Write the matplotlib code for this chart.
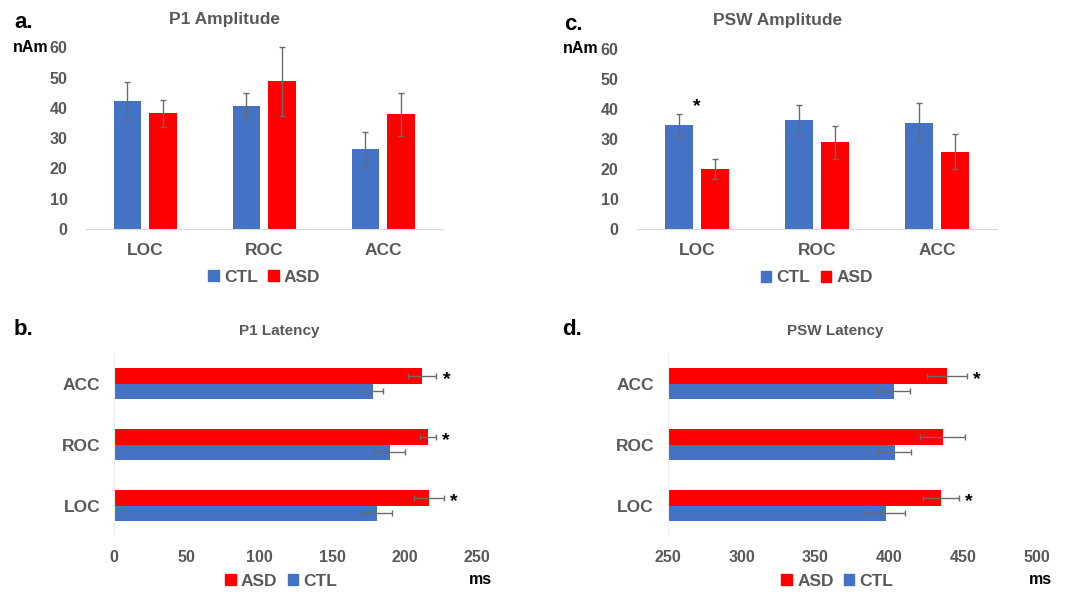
import numpy as np
import matplotlib
matplotlib.use("Agg")
from matplotlib import pyplot as plt
from matplotlib.patches import Patch

plt.rcParams["font.family"] = ["Liberation Sans", "DejaVu Sans"]
plt.rcParams["font.weight"] = "bold"

BLUE = "#4472C4"
RED = "#FF0000"
GRAY = "#595959"
ERR = "#6b6b6b"

regions = ["LOC", "ROC", "ACC"]

# amplitude (nAm): mean and error half-width
p1_amp_ctl = [42.3, 40.5, 26.4]
p1_amp_ctl_err = [6.1, 4.3, 5.7]
p1_amp_asd = [38.2, 48.7, 37.9]
p1_amp_asd_err = [4.5, 11.4, 7.1]

psw_amp_ctl = [34.5, 36.3, 35.4]
psw_amp_ctl_err = [3.7, 5.0, 6.6]
psw_amp_asd = [20.0, 28.9, 25.8]
psw_amp_asd_err = [3.4, 5.5, 5.8]
psw_amp_sig = [True, False, False]

# latency (ms), order LOC, ROC, ACC
p1_lat_ctl = [180.8, 190.0, 178.5]
p1_lat_ctl_err = [10.7, 10.2, 6.9]
p1_lat_asd = [216.7, 216.0, 212.2]
p1_lat_asd_err = [10.2, 5.5, 9.7]
p1_lat_sig = [True, True, True]

psw_lat_ctl = [397.6, 403.7, 403.3]
psw_lat_ctl_err = [13.0, 11.0, 10.8]
psw_lat_asd = [435.3, 436.3, 439.2]
psw_lat_asd_err = [12.0, 15.1, 13.5]
psw_lat_sig = [True, False, True]


def amp_panel(fig, rect, ctl, ctl_err, asd, asd_err, title, sig=None):
    ax = fig.add_axes(rect)
    x = np.arange(len(regions))
    w = 0.23
    ax.bar(x - 0.15, ctl, w, color=BLUE, zorder=2)
    ax.bar(x + 0.15, asd, w, color=RED, zorder=2)
    ax.errorbar(x - 0.15, ctl, yerr=ctl_err, fmt="none", ecolor=ERR,
                elinewidth=1, capsize=2.5, capthick=1, zorder=3, clip_on=False)
    ax.errorbar(x + 0.15, asd, yerr=asd_err, fmt="none", ecolor=ERR,
                elinewidth=1, capsize=2.5, capthick=1, zorder=3, clip_on=False)
    if sig is not None:
        for i, s in enumerate(sig):
            if s:
                top = max(ctl[i] + ctl_err[i], asd[i] + asd_err[i])
                ax.text(x[i], top + 2.5, "*", ha="center", va="center",
                        fontsize=14, color="black")
    ax.set_xlim(-0.5, 2.5)
    ax.set_ylim(0, 60)
    ax.set_yticks(range(0, 61, 10))
    ax.set_xticks(x)
    ax.set_xticklabels(regions, fontsize=12.5, color=GRAY)
    ax.tick_params(axis="y", length=0, labelsize=11.5, labelcolor=GRAY, pad=13)
    ax.tick_params(axis="x", length=0, pad=10)
    for s in ["top", "right", "left"]:
        ax.spines[s].set_visible(False)
    ax.spines["bottom"].set_color("#d9d9d9")
    ax.text(0.39, 1.155, title, transform=ax.transAxes, ha="center",
            va="center", fontsize=12.5, color=GRAY)
    ax.text(-0.105, 1.0, "nAm", transform=ax.transAxes, ha="right",
            va="center", fontsize=11.5, color="black")
    ax.legend(handles=[Patch(color=BLUE, label="CTL"),
                       Patch(color=RED, label="ASD")],
              loc="upper center", bbox_to_anchor=(0.5, -0.14), ncol=2,
              frameon=False, fontsize=12.5, handlelength=0.6,
              handleheight=0.6, handletextpad=0.3, columnspacing=0.6,
              labelcolor=GRAY)
    return ax


def lat_panel(fig, rect, ctl, ctl_err, asd, asd_err, title, sig, xmin, xmax):
    ax = fig.add_axes(rect)
    y = np.arange(len(regions))
    h = 0.26
    ax.barh(y + h / 2, np.array(asd) - xmin, h, left=xmin, color=RED, zorder=2)
    ax.barh(y - h / 2, np.array(ctl) - xmin, h, left=xmin, color=BLUE, zorder=2)
    ax.errorbar(asd, y + h / 2, xerr=asd_err, fmt="none", ecolor=ERR,
                elinewidth=1, capsize=2.5, capthick=1, zorder=3)
    ax.errorbar(ctl, y - h / 2, xerr=ctl_err, fmt="none", ecolor=ERR,
                elinewidth=1, capsize=2.5, capthick=1, zorder=3)
    for i, s in enumerate(sig):
        if s:
            ax.text(asd[i] + asd_err[i] + 7, y[i] + h / 2 - 0.06, "*",
                    ha="center", va="center", fontsize=14, color="black")
    ax.set_xlim(xmin, xmax)
    ax.set_ylim(-0.5, 2.5)
    ax.set_yticks(y)
    ax.set_yticklabels(regions, fontsize=12.5, color=GRAY)
    ax.set_xticks(np.arange(xmin, xmax + 1, 50))
    ax.tick_params(axis="x", length=0, labelsize=11.5, labelcolor=GRAY, pad=10)
    ax.tick_params(axis="y", length=0, pad=10)
    for s in ["top", "right", "bottom"]:
        ax.spines[s].set_visible(False)
    ax.spines["left"].set_color("#eeeeee")
    ax.text(0.455, 1.12, title, transform=ax.transAxes, ha="center",
            va="center", fontsize=11, color=GRAY)
    ax.text(1.01, -0.235, "ms", transform=ax.transAxes, ha="center",
            va="center", fontsize=11.5, color="black")
    ax.legend(handles=[Patch(color=RED, label="ASD"),
                       Patch(color=BLUE, label="CTL")],
              loc="upper center", bbox_to_anchor=(0.46, -0.15), ncol=2,
              frameon=False, fontsize=12.5, handlelength=0.6,
              handleheight=0.6, handletextpad=0.3, columnspacing=0.6,
              labelcolor=GRAY, borderaxespad=0.2)
    return ax


fig = plt.figure(figsize=(10.72, 5.94), dpi=100)

amp_panel(fig, [0.080, 0.6145, 0.333, 0.306], p1_amp_ctl, p1_amp_ctl_err,
          p1_amp_asd, p1_amp_asd_err, "P1 Amplitude")
amp_panel(fig, [0.594, 0.614, 0.336, 0.304], psw_amp_ctl, psw_amp_ctl_err,
          psw_amp_asd, psw_amp_asd_err, "PSW Amplitude", sig=psw_amp_sig)
lat_panel(fig, [0.1066, 0.0976, 0.3386, 0.308], p1_lat_ctl, p1_lat_ctl_err,
          p1_lat_asd, p1_lat_asd_err, "P1 Latency", p1_lat_sig, 0, 250)
lat_panel(fig, [0.623, 0.0976, 0.344, 0.308], psw_lat_ctl, psw_lat_ctl_err,
          psw_lat_asd, psw_lat_asd_err, "PSW Latency", psw_lat_sig, 250, 500)

for label, x, y in [("a.", 0.013, 0.962), ("c.", 0.526, 0.959),
                    ("b.", 0.013, 0.445), ("d.", 0.524, 0.445)]:
    fig.text(x, y, label, fontsize=16, fontweight="bold", color="black",
             va="center")

fig.savefig("out.png", dpi=100, facecolor="white")
